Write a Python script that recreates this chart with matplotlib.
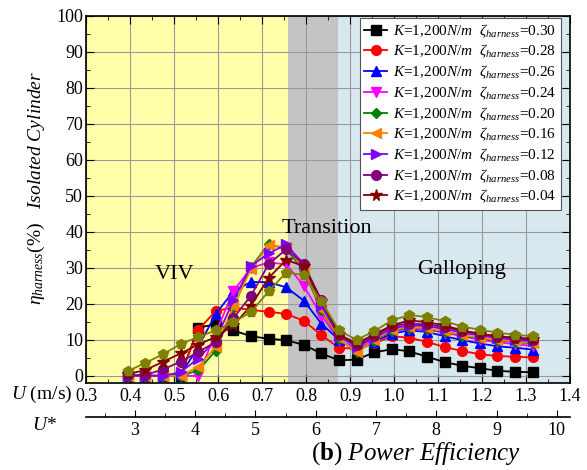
"""
    Power efficiency vs flow velocity (isolated cylinder)
"""

import matplotlib
matplotlib.use("Agg")
import matplotlib.pyplot as plt
from matplotlib.ticker import MultipleLocator, FixedLocator

plt.rcParams['font.family'] = ['Liberation Serif', 'DejaVu Serif']
plt.rcParams['mathtext.fontset'] = 'custom'
plt.rcParams['mathtext.rm'] = 'Liberation Serif'
plt.rcParams['mathtext.it'] = 'Liberation Serif:italic'
plt.rcParams['mathtext.bf'] = 'Liberation Serif:bold'

# data
U = [0.395, 0.435, 0.475, 0.515, 0.555, 0.595, 0.635, 0.675, 0.715, 0.755, 0.795, 0.835,
     0.875, 0.915, 0.955, 0.995, 1.035, 1.075, 1.115, 1.155, 1.195, 1.235, 1.275, 1.315]

zeta = ["0.30", "0.28", "0.26", "0.24", "0.20", "0.16", "0.12", "0.08", "0.04"]

eta_030 = [0, 0, 0, 0, 13.4, 14.3, 12.6, 11.0, 10.3, 9.9, 8.6, 6.2,
           4.3, 4.5, 6.5, 7.4, 6.8, 5.3, 3.8, 2.8, 2.1, 1.4, 1.1, 1.0]
eta_028 = [0, 0, 0, 0.3, 12.8, 18.0, 19.0, 18.3, 17.8, 17.2, 15.3, 11.3,
           7.8, 7.5, 9.0, 11.0, 10.6, 9.4, 8.0, 6.9, 6.0, 5.5, 5.3, 5.1]
eta_026 = [0, 0, 0, 0.3, 8.0, 17.2, 23.5, 26.1, 26.0, 24.6, 20.9, 14.5,
           10.0, 7.5, 9.5, 11.7, 12.6, 12.2, 11.0, 9.9, 9.0, 8.2, 7.8, 7.3]
eta_024 = [0, 0, 0, 0, 0, 12.0, 23.5, 30.0, 31.5, 31.0, 25.0, 16.7,
           10.0, 7.5, 9.8, 12.5, 13.0, 12.8, 12.0, 11.0, 10.0, 9.3, 8.8, 8.3]
eta_020 = [0, 0, 0, 0, 1.5, 7.0, 19.0, 30.2, 36.6, 35.2, 29.3, 18.2,
           10.3, 6.5, 9.8, 12.5, 13.3, 13.0, 12.2, 11.2, 10.4, 9.8, 9.4, 9.0]
eta_016 = [0, 0, 0, 0, 2.5, 8.0, 19.3, 29.7, 36.3, 35.8, 29.8, 18.6,
           10.5, 6.5, 10.0, 12.8, 13.5, 13.2, 12.4, 11.4, 10.6, 10.0, 9.6, 9.2]
eta_012 = [0, 0, 0, 1.0, 4.8, 10.0, 21.0, 30.5, 34.0, 36.5, 31.0, 19.5,
           11.0, 8.0, 10.5, 13.2, 14.0, 13.8, 13.0, 12.0, 11.2, 10.5, 10.0, 9.6]
eta_008 = [0.2, 0.2, 1.8, 3.9, 6.6, 9.4, 16.0, 22.3, 31.0, 35.2, 31.0, 21.0,
           11.3, 8.5, 11.0, 13.8, 14.5, 14.3, 13.5, 12.5, 11.6, 10.9, 10.4, 10.0]
eta_004 = [0.5, 1.6, 3.9, 6.2, 8.7, 10.8, 14.0, 19.5, 27.2, 32.2, 30.5, 20.7,
           11.5, 9.0, 11.5, 14.0, 15.4, 14.9, 14.0, 12.6, 11.7, 11.0, 10.6, 10.3]
eta_extra = [1.3, 3.6, 6.0, 8.8, 10.8, 12.6, 14.9, 17.7, 23.5, 28.7, 28.0, 20.7,
             12.6, 10.0, 12.4, 15.4, 16.9, 16.3, 15.2, 13.7, 12.8, 12.0, 11.4, 11.0]

ustar_ticks = [3, 4, 5, 6, 7, 8, 9, 10]

series = [eta_030, eta_028, eta_026, eta_024, eta_020, eta_016, eta_012, eta_008, eta_004]
colors = ['#000000', '#FF0000', '#0000FF', '#FF00FF', '#008000', '#FF8000', '#8000FF', '#800080', '#800000']
markers = ['s', 'o', '^', 'v', 'D', '<', '>', 'o', '*']
msizes = [6.5, 7, 7, 7, 5.5, 7, 7, 7, 8.5]

fig = plt.figure(figsize=(5.87, 4.70), dpi=100)
ax = fig.add_axes([86 / 587, 1 - 383 / 470, 484 / 587, 367 / 470])

# flow regimes
ax.axvspan(0.3, 0.760, color='#FFFFAA', lw=0, zorder=0)
ax.axvspan(0.760, 0.873, color='#C4C4C4', lw=0, zorder=0)
ax.axvspan(0.873, 1.4, color='#D8E8EF', lw=0, zorder=0)

for y, c, m, ms, z in zip(series, colors, markers, msizes, zeta):
    ax.plot(U, y, color=c, marker=m, markersize=ms, lw=1.3,
            label=r'$K$=1,200$N/m$  $\zeta_{harness}$=' + z)
ax.plot(U, eta_extra, color='#808000', marker='p', markersize=7.5, lw=1.3)

ax.text(0.502, 26.8, 'VIV', fontsize=16, ha='center', va='baseline')
ax.text(0.848, 39.7, 'Transition', fontsize=16, ha='center', va='baseline')
ax.text(1.153, 28.2, 'Galloping', fontsize=16, ha='center', va='baseline')

ax.set_xlim(0.3, 1.4)
ax.set_ylim(-2, 100)
ax.xaxis.set_major_locator(MultipleLocator(0.1))
ax.xaxis.set_minor_locator(MultipleLocator(0.05))
ax.yaxis.set_major_locator(MultipleLocator(10))
ax.yaxis.set_minor_locator(MultipleLocator(5))
ax.set_xticklabels([f'{v:.1f}' for v in ax.get_xticks()])
ax.tick_params(which='both', direction='in', top=True, right=True, labelsize=13)
ax.tick_params(axis='y', pad=2)
ax.tick_params(which='major', length=6)
ax.tick_params(which='minor', length=3)
ax.set_axisbelow(True)
ax.grid(which='major', color='#999999', lw=0.8)
for s in ax.spines.values():
    s.set_linewidth(1.2)

# second scale: reduced velocity
sec = ax.secondary_xaxis(-0.093, functions=(lambda u: u / 0.137, lambda s: s * 0.137))
sec.xaxis.set_major_locator(FixedLocator(ustar_ticks))
sec.xaxis.set_minor_locator(FixedLocator([2.5, 3.5, 4.5, 5.5, 6.5, 7.5, 8.5, 9.5]))
sec.tick_params(which='both', direction='in', labelsize=13)
sec.tick_params(which='major', length=5)
sec.tick_params(which='minor', length=3)
sec.spines['bottom'].set_linewidth(1.2)

leg = ax.legend(loc='upper right', bbox_to_anchor=(0.981, 0.995), borderaxespad=0,
                fontsize=11, fancybox=False, framealpha=1, edgecolor='#555555',
                handlelength=1.5, labelspacing=0.22, handletextpad=0.4, borderpad=0.3)
leg.get_frame().set_linewidth(0.8)

fig.text(72 / 587, 1 - 394 / 470, r'$U$ (m/s)', fontsize=14, ha='right', va='center')
fig.text(57 / 587, 1 - 426 / 470, r'$U$*', fontsize=14, ha='right', va='center')
fig.text(36 / 587, 1 - 188 / 470, r'$\eta_{harness}$(%)   $Isolated\ Cylinder$',
         fontsize=14, rotation=90, ha='center', va='center')
fig.text(416 / 587, 1 - 454 / 470, r'($\mathbf{b}$) $Power\ Efficiency$',
         fontsize=18, ha='center', va='center')

fig.savefig('out.png', dpi=100)
